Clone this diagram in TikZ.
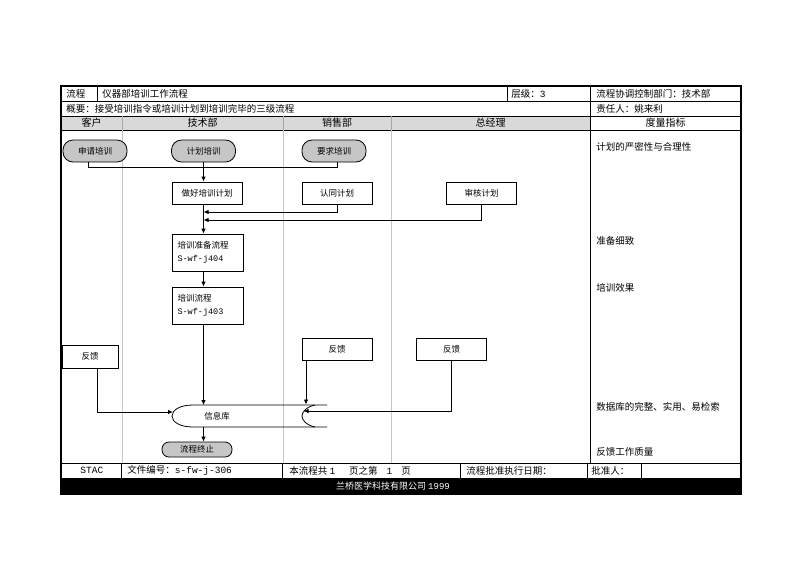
\documentclass[tikz,border=0pt]{standalone}
\usepackage{fontspec}
\setmainfont{Noto Sans CJK SC}
\setmonofont{Liberation Mono}
\usetikzlibrary{arrows.meta}

\begin{document}
\begin{tikzpicture}[x=1pt, y=-1pt, line width=0.8pt,
	font=\fontsize{8.5}{13}\selectfont,
	pill/.style={draw, fill=gray!45, rounded corners=10pt, minimum width=64pt, minimum height=22pt, inner sep=0pt},
	taskbox/.style={draw, fill=white, minimum width=70pt, minimum height=22pt, inner sep=0pt},
	subflow/.style={draw, fill=white, minimum width=71pt, minimum height=37pt, text width=60pt, align=left, inner sep=5.5pt},
	cell/.style={anchor=west, inner sep=0pt, font=\fontsize{9.5}{11}\selectfont},
	head/.style={inner sep=0pt, font=\fontsize{10}{11}\selectfont},
	metric/.style={anchor=west, inner sep=0pt, font=\fontsize{9.5}{11}\selectfont},
	lane/.style={draw=gray!45, line width=0.7pt},
	arr/.style={-{Latex[length=5pt,width=4.5pt]}}]
	\useasboundingbox (0,0) rectangle (800,566);
	% table frame
	\fill[gray!30] (61,116) rectangle (590,130);
	\fill[black] (61,478) rectangle (741,494);
	\foreach \y in {101,116,130,463} \draw (61,\y) -- (741,\y);
	\foreach \x in {97,507} \draw (\x,86) -- (\x,101);
	\foreach \x in {122,283,391} {\draw[gray!70] (\x,116) -- (\x,130); \draw[lane] (\x,130) -- (\x,463);}
	\draw (590,86) -- (590,463);
	\foreach \x in {121,282,460,587,641} \draw (\x,463) -- (\x,478);
	\draw[line width=1.2pt] (61,86) rectangle (741,494);
	% header texts
	\node[cell] (title) at (66,93.5) {流程};
	\node[cell] (name) at (102,93.5) {仪器部培训工作流程};
	\node[cell] (level) at (511,93.5) {层级：\texttt{3}};
	\node[cell] (dept) at (596,93.5) {流程协调控制部门：技术部};
	\node[cell] (summary) at (66,108.5) {概要：接受培训指令或培训计划到培训完毕的三级流程};
	\node[cell] (owner) at (596,108.5) {责任人：姚来利};
	\node[head] (hcust) at (91.5,123) {客户};
	\node[head] (htech) at (202.5,123) {技术部};
	\node[head] (hsale) at (337,123) {销售部};
	\node[head] (hgm) at (490.5,123) {总经理};
	\node[head] (hmeas) at (665.5,123) {度量指标};
	% footer
	\node[cell] (stac) at (80,470.5) {\texttt{STAC}};
	\node[cell] (fileno) at (127,470.5) {文件编号：\texttt{s-fw-j-306}};
	\node[cell] (pages) at (289,470.5) {本流程共 \texttt{1}\hspace{14pt}页之第\hspace{9pt}\texttt{1}\hspace{9pt}页};
	\node[cell] (date) at (466,470.5) {流程批准执行日期：};
	\node[cell] (approver) at (591,470.5) {批准人：};
	\node[inner sep=0pt, text=white, font=\fontsize{9}{11}\selectfont] (company) at (393,486) {兰桥医学科技有限公司 \texttt{1999}};
	% metrics
	\node[metric] (m1) at (596,147) {计划的严密性与合理性};
	\node[metric] (m2) at (596,241) {准备细致};
	\node[metric] (m3) at (596,288) {培训效果};
	\node[metric] (m4) at (596,407) {数据库的完整、实用、易检索};
	\node[metric] (m5) at (596,452) {反馈工作质量};
	% flow
	\node[pill] (apply) at (95,151) {申请培训};
	\node[pill] (plan) at (203.5,151) {计划培训};
	\node[pill] (ask) at (334,151) {要求培训};
	\node[taskbox] (makeplan) at (207,193) {做好培训计划};
	\node[taskbox] (agree) at (337,193) {认同计划};
	\node[taskbox] (review) at (481.5,193.5) {审核计划};
	\node[subflow] (prepflow) at (207.5,252.5) {培训准备流程\\\texttt{S-wf-j404}};
	\node[subflow] (trainflow) at (207.5,305.5) {培训流程\\\texttt{S-wf-j403}};
	\node[taskbox, minimum width=56pt, minimum height=23pt] (fbcust) at (90,356.5) {反馈};
	\node[taskbox] (fbsale) at (337,349) {反馈};
	\node[taskbox] (fbgm) at (451.5,349) {反馈};
	\node[pill, minimum width=70pt, minimum height=15pt, rounded corners=7pt] (stop) at (197,449.5) {流程终止};
	% information store
	\draw (327,405) -- (193,405) .. controls (180,405) and (172,410) .. (172,416)
		.. controls (172,422) and (180,427) .. (193,427) -- (327,427);
	\draw (315,405) .. controls (306,407) and (302,412) .. (302,416)
		.. controls (302,420) and (306,425) .. (315,427);
	\node (db) at (217,416) {信息库};
	\coordinate (dbtop) at (203.5,405);
	\coordinate (dbbot) at (203.5,427);
	\coordinate (dbleft) at (173,412);
	\coordinate (dbtopR) at (306,404.5);
	\coordinate (dbright) at (303.5,411);
	\coordinate (mergeA) at (203.5,212);
	\coordinate (mergeB) at (203.5,220);
	% connectors
	\draw ([xshift=-7pt]apply.south) -- ++(0,5) -| ([xshift=3pt]ask.south);
	\draw[arr] (plan.south) -- (plan.south |- makeplan.north);
	\draw[arr] (agree.south) |- (mergeA);
	\draw[arr] (review.south) |- (mergeB);
	\draw[arr] (plan |- makeplan.south) -- (plan |- prepflow.north);
	\draw[arr] (plan |- prepflow.south) -- (plan |- trainflow.north);
	\draw[arr] (plan |- trainflow.south) -- (dbtop);
	\draw[arr] ([xshift=7pt]fbcust.south) |- (dbleft);
	\draw[arr] (fbsale.south -| dbtopR) -- (dbtopR);
	\draw[arr] (fbgm.south) |- (dbright);
	\draw[arr] (dbbot) -- (plan |- stop.north);
\end{tikzpicture}
\end{document}
